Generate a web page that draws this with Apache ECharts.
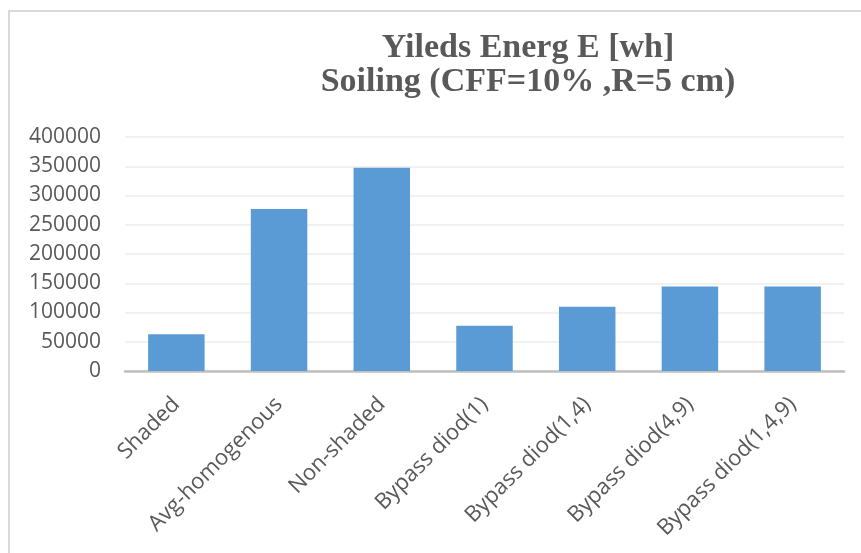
<!DOCTYPE html>
<html>
<head>
<meta charset="utf-8">
<script src="https://cdn.jsdelivr.net/npm/echarts@6/dist/echarts.min.js"></script>
<style>
  html, body { margin: 0; padding: 0; background: #fff; }
  #chart { width: 861px; height: 553px; }
</style>
</head>
<body>
<div id="chart"></div>
<script>
// Energy yield per configuration (Wh)
const categories = [
  'Shaded',
  'Avg-homogenous',
  'Non-shaded',
  'Bypass diod(1)',
  'Bypass diod(1,4)',
  'Bypass diod(4,9)',
  'Bypass diod(1,4,9)'
];
const energyValues = [63000, 277000, 347500, 77500, 110000, 144300, 144300];
const titleLines = ['Yileds Energ E [wh]', 'Soiling (CFF=10% ,R=5 cm)'];

const chart = echarts.init(document.getElementById('chart'), null, { renderer: 'canvas' });

chart.setOption({
  backgroundColor: '#ffffff',
  animation: false,
  graphic: [
    {
      type: 'polyline',
      shape: { points: [[9, 553], [9, 11], [861, 11]] },
      style: { stroke: '#d9d9d9', lineWidth: 2, fill: null },
      silent: true
    }
  ],
  title: {
    text: titleLines.join('\n'),
    left: 523,
    top: 26,
    textAlign: 'center',
    textStyle: {
      fontFamily: '"Liberation Serif", "Times New Roman", serif',
      fontWeight: 'bold',
      fontSize: 34,
      lineHeight: 34,
      color: '#595959'
    }
  },
  grid: {
    left: 125,
    right: 17,
    top: 137,
    bottom: 182,
    containLabel: false
  },
  xAxis: {
    type: 'category',
    data: categories,
    axisLine: { show: true, lineStyle: { color: '#bfbfbf', width: 2.5 } },
    axisTick: { show: false },
    axisLabel: {
      rotate: 45,
      margin: 30,
      interval: 0,
      color: '#595959',
      fontFamily: '"Open Sans", "Noto Sans", sans-serif',
      fontSize: 22
    }
  },
  yAxis: {
    type: 'value',
    min: 0,
    max: 400000,
    interval: 50000,
    axisLine: { show: false },
    axisTick: { show: false },
    splitLine: { lineStyle: { color: '#ececec', width: 1.5 } },
    axisLabel: {
      margin: 24,
      color: '#595959',
      fontFamily: '"Open Sans", "Noto Sans", sans-serif',
      fontSize: 21,
      formatter: function (v) { return String(v); }
    }
  },
  series: [
    {
      type: 'bar',
      data: energyValues,
      barWidth: '55%',
      itemStyle: { color: '#5b9bd5' }
    }
  ]
});
</script>
</body>
</html>
